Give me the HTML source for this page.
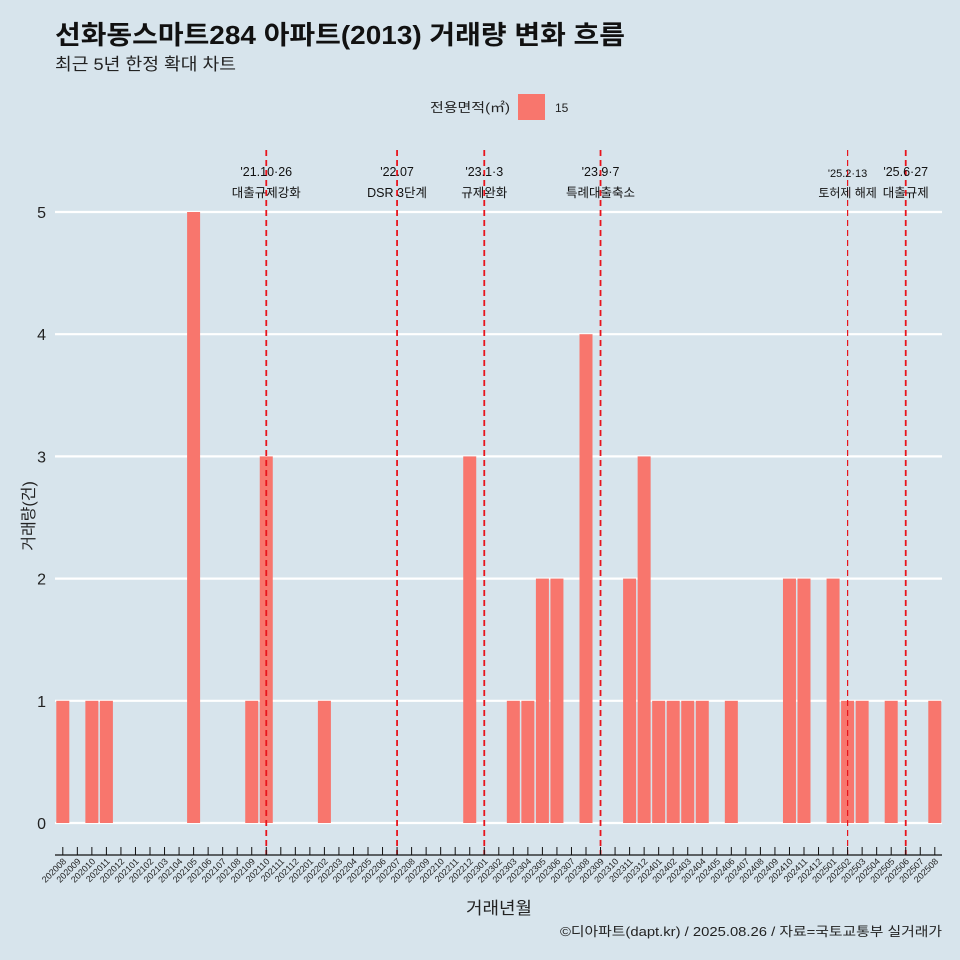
<!DOCTYPE html>
<html><head><meta charset="utf-8"><style>
html,body{margin:0;padding:0;background:#d7e4ec;}
svg{display:block;font-family:"Liberation Sans","Noto Sans CJK KR",sans-serif;}
</style></head><body>
<svg id="c" width="960" height="960" viewBox="0 0 960 960">
<rect width="960" height="960" fill="#d7e4ec"/>
<text x="55" y="44" font-size="26" font-weight="bold" fill="#111" textLength="570" lengthAdjust="spacingAndGlyphs">선화동스마트284 아파트(2013) 거래량 변화 흐름</text>
<text x="55" y="70" font-size="17" fill="#222" textLength="181" lengthAdjust="spacingAndGlyphs">최근 5년 한정 확대 차트</text>
<g>
<text x="510" y="112" font-size="13" text-anchor="end" fill="#222" textLength="80" lengthAdjust="spacingAndGlyphs">전용면적(㎡)</text>
<rect x="518" y="94" width="27" height="26" fill="#f8766d"/>
<text x="555" y="112" font-size="12" fill="#222">15</text>
</g>
<g id="grid"></g><g id="bars"></g><g id="ev"></g><g id="ax"></g>
<text x="466" y="914" font-size="17" fill="#222" textLength="66" lengthAdjust="spacingAndGlyphs">거래년월</text>
<text transform="translate(34,516) rotate(-90)" font-size="16" text-anchor="middle" fill="#222">거래량(건)</text>
<text x="942" y="936" font-size="13" text-anchor="end" fill="#222" textLength="382" lengthAdjust="spacingAndGlyphs">©디아파트(dapt.kr) / 2025.08.26 / 자료=국토교통부 실거래가</text>
</svg>
<script>
const categories=[];
for(let y=2020,m=8;!(y===2025&&m===9);){categories.push(''+y+(m<10?'0':'')+m);m++;if(m>12){m=1;y++;}}
const values=[1,0,1,1,0,0,0,0,0,5,0,0,0,1,3,0,0,0,1,0,0,0,0,0,0,0,0,0,3,0,0,1,1,2,2,0,4,0,0,2,3,1,1,1,1,0,1,0,0,0,2,2,0,2,1,1,0,1,0,0,1];
const yTicks=[0,1,2,3,4,5];
const eventMonths=['202110','202207','202301','202309','202502','202506'];
const eventDates=["'21.10·26","'22.07","'23.1·3","'23.9·7","'25.2·13","'25.6·27"];
const eventLabels=["대출규제강화","DSR 3단계","규제완화","특례대출축소","토허제 해제","대출규제"];
const NS='http://www.w3.org/2000/svg';
function mk(t,a,p){const e=document.createElementNS(NS,t);for(const k in a)e.setAttribute(k,a[k]);p.appendChild(e);return e;}
const x=i=>62.8+i*(934.8-62.8)/60, y=v=>823-v*122.2, bw=13;
const grid=document.getElementById('grid'),bars=document.getElementById('bars'),ev=document.getElementById('ev'),ax=document.getElementById('ax');
yTicks.forEach(t=>{
 const l=mk('line',{x1:55,x2:942,y1:y(t),y2:y(t),stroke:'#fff','stroke-width':2.2},grid);
 
 
 const tx=mk('text',{x:46,y:y(t)+6,'font-size':16,'text-anchor':'end',fill:'#222'},grid);tx.textContent=t;
 
 
});
values.forEach((v,i)=>{
 if(v<=0)return;
 const r=mk('rect',{x:x(i)-bw/2,y:y(v),width:bw,height:y(0)-y(v),fill:'#f8766d'},bars);
 
 
});
eventMonths.forEach((m,k)=>{
 const i=categories.indexOf(m);const xx=x(i);
 const l=mk('line',{x1:xx,x2:xx,y1:150,y2:855,stroke:'#e8141c','stroke-width':k===4?1.2:1.8,'stroke-dasharray':'6,4'},ev);
 
 
 const small=k===4;
 const t1=mk('text',{x:xx,y:small?177:176,'font-size':small?11:12.5,'text-anchor':'middle',fill:'#111'},ev);t1.textContent=eventDates[k];
 
 
 const t2=mk('text',{x:xx,y:197,'font-size':small?12:12.5,'text-anchor':'middle',fill:'#111'},ev);t2.textContent=eventLabels[k];
 
 
});
const al=mk('line',{x1:55,x2:942,y1:855,y2:855,stroke:'#111','stroke-width':1.2},ax);


categories.forEach((c,i)=>{
 const xx=x(i);
 const tk=mk('line',{x1:xx,x2:xx,y1:847,y2:855,stroke:'#111','stroke-width':1},ax);
 
 
 const t=mk('text',{x:0,y:0,'font-size':9,'text-anchor':'end',fill:'#222',transform:`translate(${xx+4},${862}) rotate(-45)`},ax);
 t.textContent=c;
 
 
});
</script>
</body></html>
